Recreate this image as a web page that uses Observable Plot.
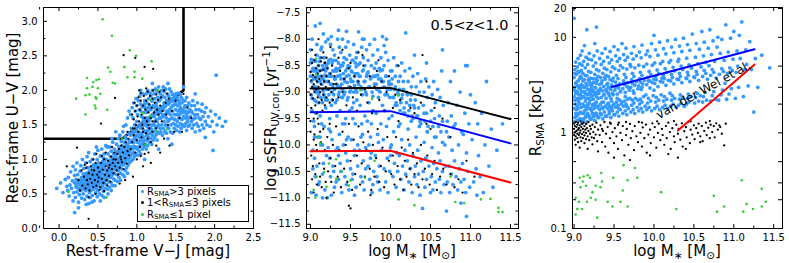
<!DOCTYPE html>
<html><head><meta charset="utf-8">
<script src="https://cdn.jsdelivr.net/npm/d3@7"></script>
<script src="https://cdn.jsdelivr.net/npm/@observablehq/plot@0.6"></script>
<style>
body{margin:0;background:#fff;}
#root{position:relative;width:789px;height:263px;overflow:hidden;font-family:"DejaVu Sans",sans-serif;color:#000;}
.lbl{position:absolute;font-size:15px;white-space:nowrap;line-height:1;}
.lbl sub{font-size:70%;vertical-align:-0.3em;line-height:0;}
.lbl sup{font-size:70%;vertical-align:0.5em;line-height:0;}
#leg{position:absolute;left:137px;top:185px;width:112px;height:37px;border:1.5px solid #000;background:#fff;box-sizing:border-box;font-size:10px;line-height:11.4px;padding:0 0 0 2px;}
#leg sub{font-size:70%;vertical-align:-0.15em;line-height:0;}
#leg .d{display:inline-block;width:3px;height:3px;border-radius:50%;margin:0 3px 1px 1px;vertical-align:middle;}
</style></head><body><div id="root"></div><script>
// ---------- Panel 1: UVJ diagram (pairs: V−J, U−V; values ×100) ----------
const uvjBlue=[-3,58,2,66,5,52,8,71,10,61,11,55,12,74,13,47,14,63,15,82,16,58,17,69,18,40,18,90,19,52,20,66,20,77,20,23,
21,45,21,85,22,60,22,71,23,53,23,95,24,66,24,78,25,38,25,58,26,49,26,70,27,63,27,83,28,55,28,91,29,44,29,74,30,60,30,68,30,100,25,30,
31,50,31,79,32,57,32,87,33,42,33,64,33,72,34,55,34,95,35,61,35,80,36,47,36,68,36,104,37,58,37,75,37,88,38,36,38,64,39,52,39,70,39,83,40,45,40,60,40,77,40,97,35,35,38,110,34,72,32,66,
41,55,41,68,41,89,42,62,42,74,43,48,43,81,43,100,44,57,44,67,45,40,45,73,45,88,46,61,46,79,46,108,47,52,47,70,47,93,48,58,48,76,48,85,49,46,49,66,49,100,50,55,50,72,50,80,50,113,42,38,44,92,47,64,48,118,43,70,49,90,
51,62,51,78,51,95,52,50,52,70,52,86,53,66,53,82,53,105,54,58,54,74,54,92,55,48,55,69,55,88,55,115,56,62,56,79,56,97,57,54,57,73,57,85,58,66,58,90,58,108,59,58,59,77,59,95,60,70,60,84,60,120,53,40,56,88,58,45,57,102,
61,64,61,80,61,100,62,57,62,73,62,92,63,85,63,108,64,68,64,79,64,97,65,60,65,88,65,118,66,74,66,94,66,104,67,66,67,82,67,112,68,77,68,90,68,99,69,62,69,86,69,125,70,72,70,95,70,108,63,50,67,55,69,102,62,118,65,78,68,130,
71,80,71,92,71,115,72,70,72,100,73,86,73,106,74,78,74,95,74,122,75,68,75,90,75,112,76,84,76,102,77,74,77,96,77,118,78,88,78,108,78,135,79,80,79,100,80,92,80,115,80,126,72,62,76,130,79,70,73,140,75,100,78,95,
81,86,81,104,81,120,82,78,82,96,82,140,83,92,83,112,84,100,84,125,85,84,85,108,85,118,86,95,86,130,86,150,87,88,87,104,87,115,88,100,88,122,88,160,89,92,89,110,89,138,90,102,90,118,90,128,84,75,88,80,83,148,90,170,
91,96,91,112,91,125,92,105,92,135,92,165,93,98,93,118,93,145,94,108,94,128,94,175,95,100,95,115,95,138,95,160,96,110,96,124,96,182,97,104,97,132,97,150,98,118,98,140,98,170,99,108,99,128,99,188,100,115,100,135,100,155,100,178,
101,106,101,125,101,165,102,118,102,140,102,185,103,112,103,132,103,172,104,120,104,150,104,192,105,108,105,128,105,145,105,180,106,122,106,138,106,162,107,115,107,134,107,176,108,126,108,155,108,195,109,118,109,142,109,168,110,128,110,150,110,185,110,100,
111,122,111,140,111,175,112,115,112,134,112,160,112,195,113,128,113,148,113,182,114,120,114,142,114,170,114,200,115,132,115,155,115,188,116,125,116,145,116,178,117,138,117,160,117,196,118,130,118,150,118,172,119,122,119,142,119,185,120,135,120,165,120,200,
121,128,121,150,121,178,122,140,122,162,122,195,123,132,123,155,123,188,124,145,124,170,124,202,125,136,125,158,125,182,126,128,126,148,126,175,126,198,127,140,127,165,127,190,128,150,128,172,128,205,129,138,129,160,129,185,130,145,130,168,130,195,128,115,
131,140,131,160,131,188,132,150,132,176,132,200,133,135,133,165,133,192,134,145,134,172,134,205,135,155,135,182,135,198,136,140,136,165,136,190,137,150,137,178,137,202,138,138,138,160,138,185,139,148,139,170,139,195,140,155,140,180,140,130,
141,145,141,168,141,192,142,158,142,182,142,202,143,140,143,165,143,188,144,150,144,175,144,198,145,160,145,185,146,138,146,170,146,194,147,152,147,178,148,145,148,165,148,190,149,158,149,182,150,150,150,172,150,195,145,122,
151,142,151,165,151,188,152,155,152,178,153,148,153,170,153,196,154,160,154,185,155,140,155,165,155,180,156,152,156,175,157,145,157,168,157,190,158,158,158,182,159,150,159,172,160,162,160,185,
161,148,161,175,162,160,162,185,163,152,163,170,164,142,164,165,164,190,165,155,165,178,166,148,166,168,167,160,167,182,168,150,168,172,169,162,170,155,170,178,
171,145,171,168,172,158,172,185,173,150,174,165,174,178,175,140,175,160,176,172,177,152,178,165,178,182,179,148,180,160,180,172,
181,142,182,158,183,170,184,150,184,180,185,162,186,145,187,168,188,155,189,175,190,150,188,132,
192,162,194,148,195,170,197,155,199,140,201,165,203,150,206,160,210,148,214,155,
202,222,198,113,175,195,160,205,140,210,120,210,105,200];
const uvjBlueCore=[22,62,24,70,26,58,28,66,30,72,31,64,33,78,34,68,35,56,36,76,37,66,38,72,39,60,40,68,41,80,42,70,43,62,44,76,45,66,46,84,47,74,48,68,49,82,50,62,51,70,52,78,53,90,54,66,55,80,56,72,57,94,58,78,59,86,60,76,61,92,62,82,63,74,64,88,65,98,66,84,67,92,68,80,69,94,70,102,71,86,72,96,73,110,74,88,75,98,76,110,77,90,78,102,79,112,80,96,81,110,82,104,83,118,84,108,85,96,86,114,87,122,88,108,89,118,90,112,
92,125,94,138,96,118,98,130,100,142,102,125,104,136,106,148,108,132,110,140,112,152,114,136,116,158,118,145,120,162,122,150,124,166,126,155,128,168,130,160,132,172,134,162,136,176,138,168,140,180,142,172,144,184,146,178,148,186,150,180,152,190,154,184,156,194,158,188,
85,133,90,138,95,142,100,147,105,151,110,156,115,160,120,165,125,169,130,173,135,178,140,182,145,187,150,191,155,195,
105,170,110,180,115,175,120,185,125,178,130,188,118,192,112,168,108,160,122,175,150,165,155,172,160,168,165,160,170,170,158,150,162,178,148,158];
const uvjBlack=[30,62,32,75,34,58,35,88,36,70,37,64,38,80,39,55,40,72,41,90,42,66,43,78,44,60,45,84,46,70,47,95,48,62,49,78,50,68,50,88,51,74,52,82,53,60,54,95,55,72,56,85,57,66,58,100,59,78,60,90,61,70,62,84,63,98,64,76,65,92,66,68,67,104,68,86,69,95,70,80,71,110,72,90,73,100,74,84,75,108,76,95,77,115,78,88,79,104,80,120,81,96,82,110,83,86,84,118,85,102,86,125,87,94,88,112,89,130,90,106,33,92,44,100,52,56,58,54,62,62,47,50,38,45,29,84,25,70,27,55,60,110,68,118,55,105,48,108,42,85,36,95,64,88,70,100,76,78,80,100,
92,115,94,125,96,135,98,110,100,128,102,140,104,118,106,132,108,145,110,122,112,138,114,130,116,145,118,125,120,140,95,145,100,100,110,108,88,140,105,105,
96,158,98,170,99,150,100,178,101,162,102,190,103,155,104,172,105,185,106,165,107,150,108,178,109,192,110,160,111,172,112,185,113,155,114,198,115,168,116,180,117,192,118,160,119,175,120,188,121,200,122,168,123,182,124,155,125,194,126,172,127,186,128,165,129,198,130,178,131,190,133,170,135,200,137,182,139,195,141,188,94,165,97,182,105,196,115,150,125,145,132,155,108,140,120,155,103,200,112,203,
140,150,145,170,150,185,155,160,160,195,165,175,148,140,135,130,125,120,142,120,170,160,158,140,130,110,118,95,108,90,95,75,85,70,78,65,115,110,138,165,
38,14,83,251,98,247,110,234,121,231,72,189,54,152,23,117,10,90,110,40];
const uvjGreen=[56,303,68,279,91,258,99,250,119,242,63,233,66,227,84,234,97,227,88,219,97,219,107,217,69,211,36,218,44,212,48,215,51,216,43,205,36,203,50,203,34,193,39,194,47,190,48,188,53,195,22,188,46,178,62,172,47,174,34,165,127,200,118,186,108,167,118,163,125,141,138,143,111,122,81,130,12,53,61,45,72,210];
// quiescent-selection boundary
const uvjBoxVJ=[-0.2,0.81,1.6,1.6];
const uvjBoxUV=[1.3,1.3,2.0,3.3];
const uvjXTicks=[0,0.5,1,1.5,2,2.5];
const uvjXMinor=[-0.25,0.25,0.75,1.25,1.75,2.25];
const uvjYTicks=[0,0.5,1,1.5,2,2.5,3];
const uvjYMinor=[0.25,0.75,1.25,1.75,2.25,2.75];

// ---------- Panel 2: sSFR vs mass (pairs: log M ×100, log sSFR ×100) ----------
const sfrBlue=[900,-845,901,-880,901,-905,902,-860,902,-935,903,-870,903,-1010,904,-840,904,-890,905,-915,905,-965,906,-775,906,-855,906,-1060,907,-875,907,-900,907,-940,908,-830,908,-865,908,-1040,909,-895,909,-985,910,-850,910,-920,900,-820,901,-1090,902,-800,903,-1045,904,-955,905,-860,906,-890,907,-1095,908,-810,909,-870,910,-1075,905,-1025,
911,-860,911,-900,912,-835,912,-945,913,-870,913,-1000,914,-815,914,-885,915,-850,915,-920,915,-1055,916,-875,916,-790,917,-905,917,-965,918,-845,918,-880,918,-1085,919,-860,919,-930,920,-895,920,-1020,911,-1070,913,-820,914,-960,916,-1035,917,-855,919,-805,920,-870,912,-985,918,-910,915,-1100,
921,-855,921,-915,922,-880,922,-1005,923,-840,923,-895,924,-865,924,-950,925,-810,925,-885,925,-1060,926,-870,926,-925,927,-845,927,-990,928,-890,928,-1040,929,-860,929,-905,930,-830,930,-875,930,-1080,922,-800,924,-1025,926,-1095,927,-900,928,-820,923,-970,929,-1050,921,-1100,
931,-860,931,-920,932,-840,932,-1010,933,-885,933,-945,934,-800,934,-870,935,-783,935,-905,935,-1065,936,-855,936,-980,937,-890,937,-1035,938,-825,938,-875,939,-910,939,-1090,940,-850,940,-960,932,-1070,934,-1005,936,-815,938,-1050,933,-860,937,-935,940,-895,
941,-865,941,-1000,942,-835,942,-905,943,-880,943,-1060,944,-815,944,-950,945,-785,945,-870,946,-915,946,-1030,947,-850,947,-985,948,-890,948,-1085,949,-830,949,-935,950,-875,950,-1045,943,-960,945,-1075,947,-805,949,-900,944,-1015,946,-855,
951,-860,951,-990,952,-840,952,-930,953,-880,953,-1055,954,-810,954,-900,955,-870,955,-1020,956,-845,956,-960,957,-895,957,-1080,958,-825,958,-915,959,-865,959,-1040,960,-786,960,-885,953,-950,955,-1095,957,-835,959,-1000,952,-1065,
961,-870,961,-1010,962,-845,962,-925,963,-890,963,-1060,964,-815,964,-960,965,-860,965,-905,966,-1030,966,-835,967,-880,967,-1085,968,-850,968,-945,969,-900,969,-1045,970,-820,970,-870,963,-985,965,-1070,967,-800,969,-1005,
971,-865,971,-955,972,-840,972,-1040,973,-890,973,-920,974,-810,974,-1065,975,-875,975,-985,976,-850,976,-1015,977,-900,977,-1090,978,-830,978,-935,979,-870,979,-1050,980,-800,980,-885,973,-1000,976,-960,978,-1075,
981,-870,981,-1020,982,-845,982,-940,983,-895,983,-1060,984,-820,984,-980,985,-875,985,-910,986,-1040,986,-855,987,-900,987,-1085,988,-835,988,-960,989,-880,989,-1010,990,-795,990,-925,984,-1070,987,-860,
991,-880,991,-990,992,-850,992,-1045,993,-905,993,-935,994,-825,994,-1070,995,-870,995,-965,996,-895,996,-1025,997,-840,997,-1090,998,-885,998,-950,999,-910,999,-1050,1000,-860,1000,-1005,995,-800,
1001,-885,1001,-1000,1002,-860,1002,-945,1003,-910,1003,-1060,1004,-835,1004,-975,1005,-895,1005,-1035,1006,-870,1006,-925,1007,-920,1007,-1080,1008,-850,1008,-1015,1009,-900,1009,-1050,1010,-880,1010,-965,
1011,-895,1011,-1020,1012,-870,1012,-960,1013,-920,1013,-1065,1014,-845,1014,-990,1015,-905,1015,-1040,1016,-880,1016,-940,1017,-930,1017,-1085,1018,-860,1018,-1010,1019,-788,1019,-1055,1020,-900,
1021,-905,1021,-1030,1022,-880,1022,-970,1023,-935,1023,-1070,1024,-855,1024,-1000,1025,-915,1025,-1045,1026,-890,1026,-955,1027,-945,1027,-1090,1028,-870,1028,-1020,1029,-925,1030,-1060,
1031,-915,1031,-1040,1032,-890,1032,-985,1033,-945,1033,-1075,1034,-865,1034,-1010,1035,-930,1035,-1055,1036,-900,1036,-965,1037,-955,1037,-1095,1038,-880,1038,-1030,1040,-1120,
1041,-925,1041,-1050,1042,-900,1042,-995,1043,-955,1043,-1080,1044,-875,1044,-1025,1045,-940,1045,-1065,1046,-910,1046,-975,1047,-965,1048,-890,1048,-1040,1050,-1090,
1051,-935,1051,-1060,1052,-905,1052,-1005,1053,-965,1053,-1085,1054,-880,1054,-1035,1055,-950,1056,-920,1056,-1070,1057,-985,1058,-1045,1059,-895,1060,-1015,
1061,-945,1061,-1065,1062,-910,1062,-1030,1063,-975,1063,-1090,1064,-860,1065,-955,1065,-1050,1066,-925,1067,-1075,1068,-1000,1069,-1040,1070,-1125,
1071,-955,1071,-1070,1072,-920,1073,-1040,1073,-985,1074,-1090,1075,-880,1076,-1055,1076,-945,1077,-1010,1078,-1075,1079,-965,1080,-1030,
1081,-960,1082,-1060,1083,-925,1084,-1085,1085,-1000,1086,-1045,1087,-900,1088,-1070,1089,-975,1090,-1035,1088,-1110,
1091,-980,1092,-1065,1093,-940,1094,-1090,1095,-1015,1096,-850,1097,-1050,1098,-960,1099,-1080,1095,-1135,
1102,-990,1104,-1070,1106,-920,1107,-1045,1108,-1095,1109,-960,1110,-1020,1112,-1060,1114,-940,1116,-1090,1118,-1000,1120,-880,
1123,-1040,1126,-970,1128,-1080,1133,-1010,1140,-960,
912,-770,926,-795,940,-800,965,-800,992,-812,1030,-830,1045,-845,1080,-860,1100,-905,1065,-820,1094,-850];
const sfrBlueCore=[900,-870,901,-838,902,-912,903,-855,904,-875,905,-895,906,-842,907,-918,908,-858,909,-880,910,-905,911,-842,912,-880,913,-910,914,-858,915,-875,916,-898,917,-835,918,-868,919,-915,920,-850,921,-880,922,-845,923,-905,924,-870,925,-838,926,-885,927,-915,928,-860,929,-840,930,-895,931,-875,932,-855,933,-915,934,-888,935,-845,936,-900,937,-868,938,-850,939,-885,940,-910,941,-845,942,-875,943,-900,944,-860,945,-838,946,-882,947,-910,948,-868,949,-852,950,-898,951,-880,952,-862,953,-840,954,-920,955,-888,956,-865,957,-852,958,-900,959,-880,960,-848,962,-870,964,-895,966,-858,968,-880,970,-905,972,-862,974,-890,976,-872,978,-908,980,-855,982,-885,984,-868,986,-898,988,-875,990,-858,992,-890,994,-870,996,-905,998,-880,1000,-895,1002,-875,1004,-910,1006,-890,1008,-925,1010,-905,1012,-935,1014,-912,1016,-895,1018,-940,1020,-920,1022,-945,1024,-925,1026,-905,1028,-950,1030,-930,1034,-945,1038,-960,1042,-940,1046,-975,1050,-955,1055,-985,1060,-965,1065,-995,1070,-975,
905,-985,915,-1000,925,-975,935,-1020,945,-990,955,-1010,965,-980,975,-1025,985,-995,1000,-1020];
const sfrBlack=[900,-862,900,-905,901,-878,901,-930,902,-845,902,-890,903,-912,903,-868,904,-885,904,-950,905,-840,905,-900,906,-872,906,-925,907,-855,907,-895,908,-880,908,-940,909,-865,909,-910,910,-850,910,-890,911,-875,911,-920,912,-860,912,-900,913,-842,913,-885,914,-915,914,-870,915,-895,915,-935,916,-858,916,-905,917,-880,918,-845,918,-925,919,-890,920,-870,920,-910,921,-855,922,-895,923,-880,924,-920,925,-865,926,-900,927,-850,928,-915,929,-885,930,-870,902,-820,906,-830,910,-960,904,-990,908,-1010,912,-975,916,-825,900,-975,914,-835,920,-835,
932,-885,935,-910,937,-860,940,-900,942,-875,945,-925,948,-855,950,-890,953,-910,955,-870,958,-935,960,-880,963,-905,966,-850,968,-895,971,-920,974,-870,977,-940,980,-890,983,-860,986,-915,989,-880,992,-935,995,-900,998,-870,935,-835,950,-845,965,-830,1003,-930,1006,-905,
910,-800,925,-815,940,-820,960,-825,985,-840,1010,-850,1040,-830,1045,-880,
900,-955,901,-1020,902,-1065,903,-1040,904,-1090,905,-980,906,-1055,907,-1000,908,-1075,909,-950,911,-1035,912,-1060,913,-995,914,-1080,916,-970,917,-1045,918,-1010,919,-1070,921,-985,922,-1050,924,-960,925,-1025,926,-1070,928,-1000,929,-1090,931,-1040,932,-965,934,-1060,936,-1010,938,-1080,940,-975,942,-1045,944,-1000,946,-1070,948,-960,950,-1030,952,-1085,954,-990,956,-1055,958,-1020,960,-965,962,-1075,964,-1035,966,-995,968,-1060,970,-1010,972,-975,974,-1045,976,-1085,978,-1000,980,-1060,982,-1025,984,-970,986,-1070,988,-1040,990,-1005,992,-1080,994,-1050,996,-985,998,-1030,
920,-1100,950,-1120,948,-1115,975,-1095,
1001,-1055,1003,-1020,1005,-1075,1007,-985,1009,-1040,1012,-1065,1014,-1005,1016,-1085,1018,-1030,1020,-1060,1022,-990,1024,-1045,1026,-1075,1028,-1015,1030,-1055,1033,-1035,1035,-1080,1038,-1000,1040,-1065,1043,-1045,1046,-1020,1049,-1075,1052,-1055,1055,-1030,1058,-1085,1062,-1060,1066,-1045,1070,-1075,1075,-1055,1080,-1080,1085,-1065,1090,-1090,1010,-955,1025,-930,1050,-970,
1012,-915,1020,-900,1030,-940,1038,-920,1045,-960,1055,-930,1065,-950,1075,-985,1095,-1030,1105,-1060];
const sfrGreen=[907,-837,907,-867,962,-896,977,-913,1010,-906,910,-984,923,-1035,932,-1027,917,-1051,908,-1060,932,-1064,920,-1079,904,-1085,906,-1100,950,-1067,968,-1062,980,-1030,948,-1077,1010,-1103,1030,-1114,1075,-1060,1081,-1108,1092,-1110,1113,-1103,1125,-1102,1135,-1119,1140,-1127,1135,-1127,912,-997,939,-1050];
// model lines (break at log M = 10)
const sfrLineMass=[9.0,10.0,11.5];
const sfrBlackLine=[-8.93,-8.92,-9.51];
const sfrBlueLine=[-9.38,-9.36,-9.97];
const sfrRedLine=[-10.12,-10.11,-10.71];
const sfrXTicks=[9,9.5,10,10.5,11,11.5];
const sfrXMinor=[9.25,9.75,10.25,10.75,11.25];
const sfrYTicks=[-11.5,-11,-10.5,-10,-9.5,-9,-8.5,-8,-7.5];
const sfrYMinor=[-11.25,-10.75,-10.25,-9.75,-9.25,-8.75,-8.25,-7.75];

// ---------- Panel 3: size vs mass (pairs: log M ×100, R_SMA kpc ×100) ----------
const sizeBlue=[900,130,900,240,900,380,900,1580,901,145,901,280,901,460,902,160,902,200,902,330,902,550,903,175,903,260,903,410,904,135,904,190,904,310,904,490,905,155,905,220,905,350,905,600,906,210,906,295,906,430,907,140,907,230,907,370,907,530,908,165,908,250,908,390,908,650,909,185,909,270,909,320,909,450,910,125,910,510,910,720,
911,135,911,240,911,420,912,160,912,300,912,560,913,190,913,270,913,360,914,145,914,215,914,480,915,175,915,330,915,620,916,130,916,255,916,395,917,200,917,285,917,520,918,150,918,230,918,440,919,180,919,345,919,680,920,140,920,265,920,375,916,1200,913,820,918,590,911,310,919,205,
921,140,921,250,921,430,922,170,922,310,922,580,923,195,923,280,923,370,924,150,924,225,924,500,925,180,925,340,925,640,926,135,926,265,926,410,927,205,927,295,927,540,928,160,928,240,928,460,929,185,929,355,929,720,930,145,930,275,930,390,926,860,928,1280,
931,145,931,260,931,445,932,175,932,320,932,600,933,200,933,290,933,380,934,155,934,235,934,520,935,185,935,350,935,680,936,140,936,275,936,420,937,210,937,305,937,560,938,165,938,250,938,475,939,190,939,365,939,760,940,150,940,285,940,400,
941,150,941,270,941,460,942,180,942,330,942,620,943,205,943,300,943,390,944,160,944,245,944,540,945,190,945,360,945,710,946,145,946,285,946,435,947,215,947,315,947,580,948,170,948,260,948,490,949,195,949,375,950,155,950,800,
951,155,951,280,951,470,952,185,952,340,952,640,953,210,953,310,953,400,954,165,954,255,954,560,955,195,955,370,955,740,956,150,956,295,956,450,957,220,957,325,957,600,958,175,958,270,958,505,959,200,960,860,
961,160,961,290,961,480,962,190,962,350,962,660,963,215,963,320,963,410,964,170,964,265,964,575,965,200,965,380,965,770,966,155,966,305,966,465,967,225,967,335,967,620,968,180,969,280,970,520,
971,165,971,300,971,495,972,195,972,360,972,680,973,220,973,330,973,420,974,175,974,275,974,590,975,205,975,390,975,800,976,160,976,315,976,480,977,230,978,345,978,640,979,185,980,290,
981,170,981,310,981,510,982,200,982,370,982,700,983,225,983,340,983,430,984,180,984,285,984,610,985,210,985,400,985,830,986,165,986,325,987,495,987,240,988,355,989,190,990,660,
991,175,991,320,991,525,992,205,992,380,992,720,993,230,993,350,994,440,994,185,995,295,995,630,996,215,996,410,997,860,997,170,998,335,998,510,999,245,1000,365,1000,1050,
1001,180,1001,330,1001,540,1002,210,1002,390,1002,740,1003,235,1003,360,1004,455,1004,190,1005,305,1005,650,1006,220,1006,420,1007,890,1007,175,1008,345,1008,530,1009,250,1010,375,
1011,185,1011,340,1011,560,1012,215,1012,400,1012,760,1013,240,1013,370,1014,470,1014,195,1015,315,1015,670,1016,225,1016,430,1017,920,1017,180,1018,355,1019,545,1020,260,
1021,190,1021,350,1021,575,1022,220,1022,410,1022,790,1023,245,1023,380,1024,485,1024,200,1025,325,1025,690,1026,230,1026,445,1027,950,1028,185,1029,365,1030,560,
1031,195,1031,360,1031,590,1032,225,1032,420,1032,810,1033,250,1033,390,1034,500,1034,205,1035,335,1035,710,1036,235,1036,460,1037,980,1038,190,1040,375,
1041,200,1041,370,1041,605,1042,230,1042,430,1042,840,1043,255,1043,400,1044,515,1044,210,1045,345,1045,730,1046,240,1047,475,1048,1080,1050,385,
1051,205,1051,380,1052,620,1052,235,1053,440,1053,860,1054,260,1054,410,1055,530,1056,215,1056,355,1057,750,1058,245,1059,490,1060,1150,
1061,210,1061,390,1062,640,1062,240,1063,450,1063,890,1064,265,1065,420,1065,545,1066,220,1067,365,1068,770,1069,505,1070,1200,
1071,215,1071,400,1072,660,1073,245,1073,460,1074,920,1075,270,1075,430,1076,560,1077,225,1078,375,1079,790,1080,1000,
1081,220,1082,410,1083,680,1084,250,1085,470,1085,950,1086,280,1087,440,1088,575,1089,330,1090,1350,
1091,225,1092,420,1093,700,1094,255,1095,480,1096,980,1097,290,1098,450,1099,590,1100,1150,
1102,230,1103,430,1104,720,1105,500,1106,300,1107,1050,1108,600,1110,1450,
1112,240,1114,460,1115,740,1116,520,1118,310,1120,900,1122,460,1125,165,1127,600,1130,300,1135,650,1145,480];
const sizeBlueCore=[900,180,900,300,901,220,901,420,902,260,903,150,903,340,904,230,904,270,905,180,905,440,906,160,906,250,907,310,907,200,908,140,908,290,909,230,909,380,910,160,910,270,911,200,911,350,912,240,912,140,913,300,913,170,914,260,914,400,915,150,915,230,916,190,916,310,917,160,917,250,918,360,918,200,919,280,919,150,920,220,920,320,921,180,921,290,922,240,922,140,923,330,923,160,924,270,924,200,925,150,925,250,926,300,926,190,927,160,927,370,928,210,928,330,929,150,929,260,930,190,930,230,932,280,933,160,934,330,935,210,936,180,937,250,938,380,939,150,940,230,941,320,942,200,943,260,944,170,945,290,946,230,947,180,948,350,949,250,950,200,952,300,954,230,956,180,958,270,960,210,962,340,964,240,966,190,968,300,970,230,975,260,980,220,985,300,990,250,995,350,1000,280];
const sizeBlack=[900,95,900,110,900,125,901,85,901,102,901,118,902,92,902,130,902,75,903,105,903,115,904,88,904,98,904,122,905,80,905,108,905,128,906,95,906,112,907,70,907,100,907,120,908,90,908,106,908,132,909,82,909,115,910,97,910,125,911,88,911,110,912,102,912,128,913,78,913,94,913,118,914,108,915,86,915,100,915,124,916,112,917,92,917,68,918,105,918,130,919,84,920,98,920,118,921,110,922,90,923,76,923,122,924,102,925,88,926,115,927,96,928,128,929,82,930,108,930,64,
932,95,933,120,935,80,936,105,938,130,939,72,940,98,942,115,943,62,945,88,946,125,948,102,950,78,951,112,953,92,955,68,956,128,958,100,960,84,961,118,963,58,965,95,966,110,968,75,970,124,971,88,973,104,975,66,976,118,978,92,980,80,981,130,983,100,985,72,986,114,988,88,990,122,991,62,993,96,995,108,996,78,998,126,1000,90,1001,115,1003,70,1005,100,1006,125,1008,84,1010,110,1011,95,1013,75,1015,118,1016,88,1018,128,1020,102,1021,68,1023,112,1025,92,1026,80,1028,122,1030,98,1031,110,1033,85,1035,126,1036,72,1038,104,1040,115,1041,90,1043,130,1045,78,1046,108,1048,96,1050,120,1051,86,1053,112,1055,100,1056,125,1058,92,1060,118,1061,82,1063,105,1065,128,1066,95,1068,113,1070,88,1071,122,1073,102,1075,118,1076,90,1078,126,1080,108,1083,115,1085,98,1088,74,950,55,970,52,995,58,1018,60,1030,55,945,128,935,110,955,122,965,130,985,128,1004,132,1025,133,1046,132,1070,133,1090,125,1082,120,1058,80,1040,68];
const sizeGreen=[902,21,906,19,904,16,902,14,910,16,907,34,912,35,917,36,911,31,908,27,915,28,920,34,923,24,927,28,933,27,916,19,921,21,927,20,934,38,935,31,929,13,942,19,949,34,948,17,958,19,962,46,961,25,967,32,967,17,976,43,979,34,1009,24,1028,16,1075,22,1079,15,1088,17,1110,32,1112,15,1116,18,1124,16,1135,17,1135,26,1140,19];
// size–mass relations
const vdwBlueMass=[9.47,11.26], vdwBlueR=[3.02,7.5];
const vdwRedMass=[10.30,11.26], vdwRedR=[1.06,5.2];
const sizeXTicks=[9,9.5,10,10.5,11,11.5];
const sizeXMinor=[9.25,9.75,10.25,10.75,11.25];
const sizeYTicks=[0.1,0.2,0.3,0.5,1,2,3,5,10,20];
const sizeYLabels=[0.1,0.5,1,5,10,20];

// ---------- drawing ----------
const BLUE="#3399ff", BLACK="#000", GREEN="#33cc33";
const P=(a)=>{const o=[];for(let i=0;i<a.length;i+=2)o.push({x:a[i]/100,y:a[i+1]/100});return o;};
const zip=(xs,ys)=>xs.map((x,i)=>({x,y:ys[i]}));
const dots=(a,fill,r)=>Plot.dot(P(a),{x:"x",y:"y",r,fill,stroke:null});
const root=document.getElementById("root");
const fmt1=d=>d.toFixed(1).replace("-","\u2212");
const RB=1.9, RK=1.15, RG=1.3;

function makePanel(o){
  const W=263,H=263,mt=7,mb=35;
  const ih=H-mt-mb, iw=W-o.ml-o.mr;
  const tk=[];
  for(const [vals,len] of [[o.xMajor,4],[o.xMinor||[],2.5]]){
    tk.push(Plot.tickX(vals,{x:d=>d,insetTop:ih-len,stroke:"#000"}));
    tk.push(Plot.tickX(vals,{x:d=>d,insetBottom:ih-len,stroke:"#000"}));
  }
  for(const [vals,len] of [[o.yMajor,4],[o.yMinor||[],2.5]]){
    tk.push(Plot.tickY(vals,{y:d=>d,insetRight:iw-len,stroke:"#000"}));
    tk.push(Plot.tickY(vals,{y:d=>d,insetLeft:iw-len,stroke:"#000"}));
  }
  const svg=Plot.plot({width:W,height:H,marginLeft:o.ml,marginRight:o.mr,marginTop:mt,marginBottom:mb,
    x:{domain:o.xDomain},y:{domain:o.yDomain,type:o.yType||"linear"},
    style:{fontFamily:"'DejaVu Sans',sans-serif",fontSize:"10px",color:"#000",background:"transparent",overflow:"visible"},
    marks:[...o.marks,Plot.frame({stroke:"#000",strokeWidth:1}),...tk,
      Plot.axisX(o.xMajor,{tickSize:0,tickPadding:5,tickFormat:o.xFmt,label:null}),
      Plot.axisY(o.yLabels||o.yMajor,{tickSize:0,tickPadding:6,tickFormat:o.yFmt,label:null})]});
  svg.style.position="absolute";svg.style.left=o.left+"px";svg.style.top="0px";
  root.appendChild(svg);
}

makePanel({left:0,ml:43,mr:10,xDomain:[-0.2,2.5],yDomain:[0,3.2],
  xMajor:uvjXTicks,xMinor:uvjXMinor,yMajor:uvjYTicks,yMinor:uvjYMinor,xFmt:fmt1,yFmt:fmt1,
  marks:[Plot.line(zip(uvjBoxVJ,uvjBoxUV),{x:"x",y:"y",stroke:"#000",strokeWidth:2.6,clip:true}),
    dots(uvjBlue,BLUE,RB),dots(uvjBlueCore,BLUE,RB),dots(uvjBlack,BLACK,RK),dots(uvjGreen,GREEN,RG)]});

makePanel({left:263,ml:43,mr:8,xDomain:[8.95,11.6],yDomain:[-11.58,-7.4],
  xMajor:sfrXTicks,xMinor:sfrXMinor,yMajor:sfrYTicks,yMinor:sfrYMinor,xFmt:fmt1,yFmt:fmt1,
  marks:[dots(sfrBlue,BLUE,RB),dots(sfrBlueCore,BLUE,RB),dots(sfrBlack,BLACK,RK),dots(sfrGreen,GREEN,RG),
    Plot.line(zip(sfrLineMass,sfrBlackLine),{x:"x",y:"y",stroke:"#000",strokeWidth:2}),
    Plot.line(zip(sfrLineMass,sfrBlueLine),{x:"x",y:"y",stroke:"#0000ff",strokeWidth:2}),
    Plot.line(zip(sfrLineMass,sfrRedLine),{x:"x",y:"y",stroke:"#ff0000",strokeWidth:2}),
    Plot.text(["0.5<z<1.0"],{frameAnchor:"top-right",textAnchor:"end",lineAnchor:"top",dx:-10,dy:12,fontSize:14.5,fill:"#000"})]});

makePanel({left:526,ml:46,mr:7,xDomain:[8.98,11.61],yDomain:[0.1,20.5],yType:"log",
  xMajor:sizeXTicks,xMinor:sizeXMinor,yMajor:sizeYTicks,yLabels:sizeYLabels,xFmt:fmt1,yFmt:d=>String(d),
  marks:[dots(sizeBlue,BLUE,RB),dots(sizeBlueCore,BLUE,RB),dots(sizeBlack,BLACK,RK),dots(sizeGreen,GREEN,RG),
    Plot.line(zip(vdwBlueMass,vdwBlueR),{x:"x",y:"y",stroke:"#0000ff",strokeWidth:2}),
    Plot.line(zip(vdwRedMass,vdwRedR),{x:"x",y:"y",stroke:"#ff0000",strokeWidth:2}),
    Plot.text([{x:10.62,y:2.8,t:"van der Wel et al."}],{x:"x",y:"y",text:"t",rotate:-29,fontSize:12,fill:"#000"})]});

// axis titles & legend (HTML text overlays)
root.insertAdjacentHTML("beforeend",`
<div class="lbl" style="left:148px;top:244px;transform:translateX(-50%)">Rest-frame V\u2212J [mag]</div>
<div class="lbl" style="left:13px;top:118px;transform:translate(-50%,-50%) rotate(-90deg)">Rest-frame U\u2212V [mag]</div>
<div class="lbl" style="left:412px;top:244px;transform:translateX(-50%)">log M<sub>\u2217</sub> [M<sub>\u2299</sub>]</div>
<div class="lbl" style="left:271px;top:118px;transform:translate(-50%,-50%) rotate(-90deg)">log sSFR<sub>UV,cor</sub> [yr<sup>\u22121</sup>]</div>
<div class="lbl" style="left:677px;top:244px;transform:translateX(-50%)">log M<sub>\u2217</sub> [M<sub>\u2299</sub>]</div>
<div class="lbl" style="left:536px;top:118px;transform:translate(-50%,-50%) rotate(-90deg)">R<sub>SMA</sub> [kpc]</div>
<div id="leg">
<div><span class="d" style="background:${BLUE}"></span>R<sub>SMA</sub>&gt;3 pixels</div>
<div><span class="d" style="background:#000"></span>1&lt;R<sub>SMA</sub>\u22643 pixels</div>
<div><span class="d" style="background:${GREEN}"></span>R<sub>SMA</sub>\u22641 pixel</div>
</div>`);
</script></body></html>
